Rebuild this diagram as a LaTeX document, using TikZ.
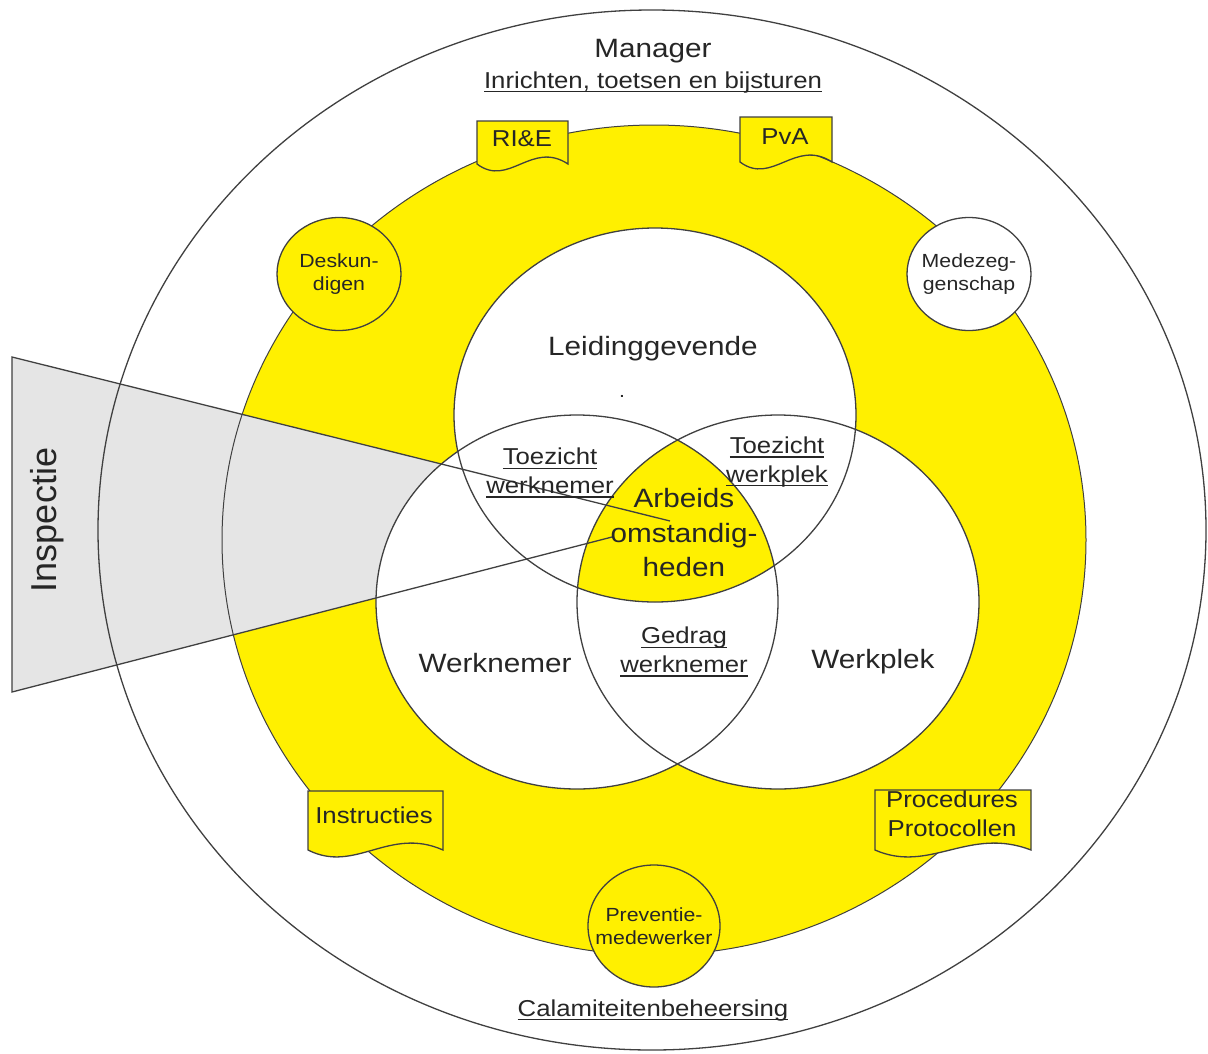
\documentclass[tikz,border=0pt]{standalone}
\usepackage{fontspec}
\setmainfont{Liberation Sans}[FakeStretch=1.12]
\newfontfamily\inspfont{Liberation Sans}
\usetikzlibrary{shapes.geometric,calc}

\definecolor{ringyellow}{RGB}{255,240,0}
\definecolor{inspgray}{RGB}{229,229,229}
\definecolor{linegray}{RGB}{64,64,64}
\definecolor{textgray}{RGB}{38,38,38}

\newcommand{\bigsize}{\fontsize{26.5}{34.5}\selectfont}
\newcommand{\midsize}{\fontsize{23}{28.5}\selectfont}
\newcommand{\smallsize}{\fontsize{19}{23.5}\selectfont}
\newcommand{\undl}[1]{\leavevmode\setbox0=\hbox{#1}\rlap{\rule[-4.2pt]{\wd0}{1.5pt}}\box0}
\newcommand{\drawlabel}{\node[align=center,text=textgray,inner sep=0pt]}
\newcommand{\drawsmall}{\node[draw=linegray,line width=1.3pt,ellipse,minimum width=124pt,minimum height=113pt,inner sep=0pt]}
\newcommand{\drawdoc}[5]{\draw[linegray,line width=1.3pt,fill=ringyellow] (#2,#5) coordinate (#1) -- (#2,#3) -- (#4,#3) -- (#4,#5)
  .. controls ($(#4,#5)!0.4!(#2,#5)+(0,-24)$) and ($(#4,#5)!0.65!(#2,#5)+(0,24)$) .. (#2,#5) -- cycle;}

\begin{document}
\begin{tikzpicture}[x=1pt,y=-1pt]
\useasboundingbox (0,0) rectangle (1208,1053);
%outer circle and yellow ring
\fill[white] (652,530) ellipse [x radius=554pt,y radius=520pt];
\fill[ringyellow] (654,540) ellipse [x radius=432pt,y radius=415pt];

%inspectie wedge
\fill[inspgray] (12,357) -- (670,521) -- (612,537) -- (12,692) -- cycle;
\draw[linegray,line width=1.3pt] (652,530) ellipse [x radius=554pt,y radius=520pt];
\draw[linegray,line width=1pt] (654,540) ellipse [x radius=432pt,y radius=415pt];

%three circles
\foreach \cx/\cy in {655/415, 577/602, 778/602}
  \fill[white] (\cx,\cy) ellipse [x radius=201pt,y radius=187pt];
\begin{scope}
\clip (655,415) ellipse [x radius=201pt,y radius=187pt];
\clip (577,602) ellipse [x radius=201pt,y radius=187pt];
\fill[ringyellow] (778,602) ellipse [x radius=201pt,y radius=187pt];
\end{scope}
\foreach \cx/\cy in {655/415, 577/602, 778/602}
  \draw[linegray,line width=1.3pt] (\cx,\cy) ellipse [x radius=201pt,y radius=187pt];

\draw[linegray,line width=1.3pt] (670,521) -- (12,357) -- (12,692) -- (612,537);

%small circles on the ring
\drawsmall[fill=ringyellow] (deskundigen) at (339,274) {};
\drawsmall[fill=white] (medezeg) at (969,274) {};
\drawsmall[fill=ringyellow,minimum width=132pt,minimum height=122pt] (preventie) at (654,926) {};
\drawlabel[font=\smallsize] (deskText) at (deskundigen) {Deskun-\\digen};
\drawlabel[font=\smallsize] (medezegText) at (medezeg) {Medezeg-\\genschap};
\drawlabel[font=\smallsize] (preventieText) at (preventie) {Preventie-\\medewerker};

%documents
\drawdoc{rie}{477}{121}{568}{164}
\drawdoc{pva}{740}{117}{832}{162}
\drawdoc{instr}{308}{791}{443}{850}
\drawdoc{proc}{875}{790}{1031}{850}
\drawlabel[font=\midsize,anchor=base] (rieText) at (522,146) {RI\&E};
\drawlabel[font=\midsize,anchor=base] (pvaText) at (785,144) {PvA};
\drawlabel[font=\midsize,anchor=base] (instrText) at (374,823) {Instructies};
\drawlabel[font=\midsize] (procText) at (952,814) {Procedures\\Protocollen};

%labels
\drawlabel[font=\bigsize,anchor=base] (manager) at (653,57) {Manager};
\drawlabel[font=\midsize,anchor=base] (inrichten) at (653,88) {\undl{Inrichten, toetsen en bijsturen}};
\drawlabel[font=\midsize,anchor=base] (calamiteit) at (653,1016) {\undl{Calamiteitenbeheersing}};
\drawlabel[font=\bigsize,anchor=base] (leiding) at (653,355) {Leidinggevende};
\drawlabel[font=\smallsize] (dot) at (622,396) {.};
\drawlabel[font=\bigsize,anchor=base] (werknemer) at (495,672) {Werknemer};
\drawlabel[font=\bigsize,anchor=base] (werkplek) at (873,668) {Werkplek};
\drawlabel[font=\bigsize] (arbeids) at (684,533) {Arbeids\\omstandig-\\heden};
\drawlabel[font=\midsize] (tzWerknemer) at (550,473) {\undl{Toezicht}\\\undl{werknemer}};
\drawlabel[font=\midsize] (tzWerkplek) at (777,462) {\undl{Toezicht}\\\undl{werkplek}};
\drawlabel[font=\midsize] (gedrag) at (684,652) {\undl{Gedrag}\\\undl{werknemer}};
\drawlabel[font=\inspfont\fontsize{36}{40}\selectfont,rotate=90] (inspectie) at (47,520) {Inspectie};
\end{tikzpicture}
\end{document}
